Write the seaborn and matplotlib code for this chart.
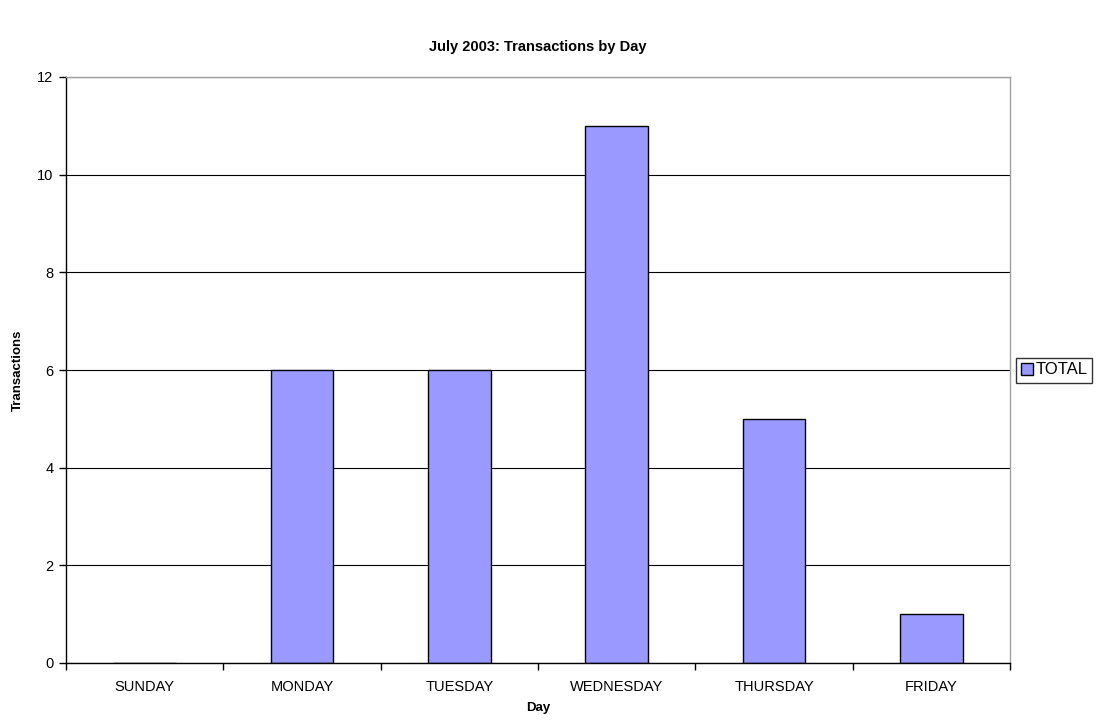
import matplotlib
matplotlib.use("Agg")
import matplotlib.pyplot as plt
import numpy as np
import pandas as pd
import seaborn as sns
from matplotlib.patches import Patch

# =========================
# DATA
# =========================
days = ["SUNDAY", "MONDAY", "TUESDAY", "WEDNESDAY", "THURSDAY", "FRIDAY"]
totals = [0, 6, 6, 11, 5, 1]

df = pd.DataFrame({"Day": days, "TOTAL": totals})

sns.set_theme(style="white")
plt.rcParams["font.family"] = ["Liberation Sans", "DejaVu Sans"]
plt.rcParams["text.color"] = "black"
plt.rcParams["axes.labelcolor"] = "black"
plt.rcParams["xtick.color"] = "black"
plt.rcParams["ytick.color"] = "black"

BAR_COLOR = "#9999FF"

fig = plt.figure(figsize=(11.05, 7.28), dpi=100)
ax = fig.add_axes([66 / 1105, 1 - 663 / 728, (1010 - 66) / 1105, (663 - 77) / 728])

sns.barplot(data=df, x="Day", y="TOTAL", color=BAR_COLOR, width=0.4,
            edgecolor="black", linewidth=1, saturation=1, ax=ax)

ax.set_xlim(-0.5, len(days) - 0.5)
ax.set_ylim(0, 12)
ax.set_yticks(np.arange(0, 13, 2))
ax.yaxis.grid(True, color="black", linewidth=0.8)
ax.set_axisbelow(True)

# category labels on minor ticks, tick marks at boundaries
ax.set_xticks(np.arange(-0.5, len(days), 1.0))
ax.set_xticklabels([])
ax.set_xticks(np.arange(len(days)), minor=True)
ax.set_xticklabels(days, minor=True)
ax.tick_params(axis="x", which="major", direction="out", length=5, width=1,
               color="black", bottom=True)
ax.tick_params(axis="x", which="minor", length=0, pad=12, labelsize=10.5)
ax.tick_params(axis="y", direction="out", length=5, width=1, color="black",
               left=True, labelsize=10.5, pad=4)

for side in ["left", "bottom"]:
    ax.spines[side].set_color("black")
    ax.spines[side].set_linewidth(1)
for side in ["top", "right"]:
    ax.spines[side].set_color("#a0a0a0")
    ax.spines[side].set_linewidth(1)

ax.set_xlabel("Day", fontsize=9.5, fontweight="bold", labelpad=6)
ax.set_ylabel("Transactions", fontsize=9.5, fontweight="bold")
ax.yaxis.set_label_coords(-(66 - 24) / 944, 0.5)
fig.text(538 / 1105, 1 - 47 / 728, "July 2003: Transactions by Day",
         fontsize=10.5, fontweight="bold", ha="center", va="center")

handles = [Patch(facecolor=BAR_COLOR, edgecolor="black", label="TOTAL")]
leg = fig.legend(handles=handles, loc="center left",
                 bbox_to_anchor=(1016 / 1105, 1 - 370 / 728),
                 fontsize=12, frameon=True, fancybox=False, handlelength=0.7,
                 handleheight=0.7, handletextpad=0.15, borderpad=0.3,
                 borderaxespad=0)
leg.get_frame().set_edgecolor("black")
leg.get_frame().set_linewidth(1)

fig.savefig("out.png", dpi=100)
